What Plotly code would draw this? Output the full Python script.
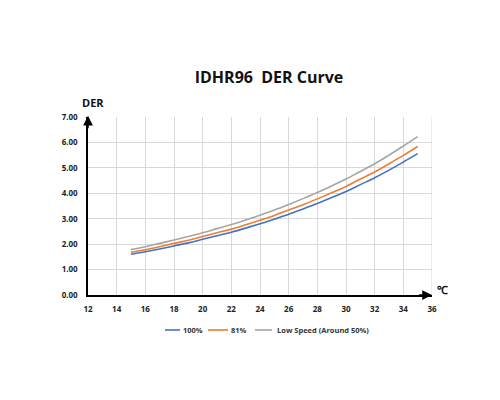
import plotly.graph_objects as go

temps = list(range(15, 36))
der_100 = [1.60, 1.70, 1.81, 1.93, 2.05, 2.19, 2.33, 2.47, 2.63, 2.80, 2.98,
           3.18, 3.38, 3.60, 3.83, 4.07, 4.34, 4.61, 4.91, 5.23, 5.56]
der_81 = [1.68, 1.78, 1.90, 2.03, 2.15, 2.30, 2.45, 2.59, 2.76, 2.94, 3.13,
          3.34, 3.55, 3.78, 4.02, 4.27, 4.56, 4.84, 5.16, 5.49, 5.84]
der_low = [1.79, 1.90, 2.03, 2.16, 2.30, 2.45, 2.61, 2.77, 2.95, 3.14, 3.34,
           3.56, 3.79, 4.03, 4.29, 4.56, 4.86, 5.16, 5.50, 5.86, 6.23]
series_names = ["100%", "81%", "Low Speed (Around 50%)"]
colors = ["#4472C4", "#ED7D31", "#A5A5A5"]

fig = go.Figure()
for name, vals, c in zip(series_names, [der_100, der_81, der_low], colors):
    fig.add_trace(go.Scatter(x=temps, y=vals, mode="lines", name=name, showlegend=False,
                             line=dict(color=c, width=1.6, shape="spline")))

tickfont = dict(family="Open Sans", size=8, color="#222222", weight="bold")
fig.update_layout(
    width=500, height=400,
    paper_bgcolor="white", plot_bgcolor="white",
    margin=dict(l=80, r=76, t=109, b=113, autoexpand=False),
    title=dict(text="IDHR96  DER Curve", x=0.522, xanchor="center", y=0.8275, yanchor="middle",
               font=dict(family="Open Sans", size=16, color="#111111", weight="bold")),
    xaxis=dict(range=[12, 36], tick0=12, dtick=2, showgrid=True, gridcolor="#D9D9D9",
               gridwidth=1, zeroline=False, showline=True, linecolor="black", linewidth=1.5,
               tickfont=tickfont, ticks="", ticklabelstandoff=6),
    yaxis=dict(range=[0, 7], tick0=0, dtick=1, tickformat=".2f", showgrid=True,
               gridcolor="#D9D9D9", gridwidth=1, zeroline=False, showline=True,
               linecolor="black", linewidth=1.5, tickfont=tickfont, ticks="",
               ticklabelstandoff=7),
    showlegend=False,
)
# right grid border
fig.add_shape(type="line", xref="x", yref="y", x0=36, x1=36, y0=0, y1=7,
              line=dict(color="#D9D9D9", width=1), layer="below")
# axis arrows
fig.add_annotation(x=12, y=7.05, ax=12, ay=6.5, xref="x", yref="y", axref="x", ayref="y",
                   text="", showarrow=True, arrowhead=2, arrowsize=1.3, arrowwidth=1.5,
                   arrowcolor="black")
fig.add_annotation(x=36, y=0, ax=35, ay=0, xref="x", yref="y", axref="x", ayref="y",
                   text="", showarrow=True, arrowhead=2, arrowsize=1.3, arrowwidth=1.5,
                   arrowcolor="black")
fig.add_annotation(x=12, y=7, xref="x", yref="y", text="DER", showarrow=False,
                   xanchor="center", yanchor="middle", xshift=5, yshift=15,
                   font=dict(family="Open Sans", size=11, color="#111111", weight="bold"))
fig.add_annotation(x=36, y=0, xref="x", yref="y", text="℃", showarrow=False,
                   xanchor="left", yanchor="middle", xshift=3, yshift=6,
                   font=dict(family="Open Sans", size=11, color="#111111", weight="bold"))

# manual legend
legend_pos = [(0.2238, 0.2674, 0.2703), (0.3488, 0.407, 0.4099), (0.4855, 0.5349, 0.5436)]
ly = -0.1966
for name, c, (x0, x1, xt) in zip(series_names, colors, legend_pos):
    fig.add_shape(type="line", xref="paper", yref="paper", x0=x0, x1=x1, y0=ly, y1=ly,
                  line=dict(color=c, width=1.6))
    fig.add_annotation(x=xt, y=ly, xref="paper", yref="paper", text=name, showarrow=False,
                       xanchor="left", yanchor="middle",
                       font=dict(family="Open Sans", size=7.5, color="#333333", weight="bold"))

fig.write_html("out.html")
